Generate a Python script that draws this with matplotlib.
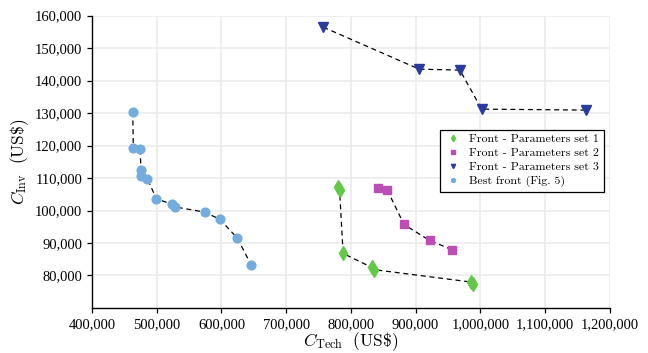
import numpy as np
import matplotlib
matplotlib.use("Agg")
import matplotlib.pyplot as plt
from matplotlib.ticker import FuncFormatter

plt.rcParams['font.family'] = 'serif'
plt.rcParams['font.serif'] = ['cmr10', 'DejaVu Serif']
plt.rcParams['mathtext.fontset'] = 'cm'
plt.rcParams['axes.formatter.use_mathtext'] = True

# front - parameters set 1 (green diamonds)
set1_x = [780500, 782500, 788000, 832000, 836000, 985000, 988500]
set1_y = [107200, 106300, 86800, 82500, 81800, 78000, 77400]
# front - parameters set 2 (magenta squares)
set2_x = [842500, 856500, 882000, 921500, 955500]
set2_y = [106800, 106200, 95700, 90800, 88000]
# front - parameters set 3 (blue triangles)
set3_x = [757500, 905500, 968500, 1002000, 1163000]
set3_y = [156400, 143500, 143200, 131200, 130900]
# best front (Fig. 5)
best_x = [462900, 463800, 474200, 475700, 475700, 485500, 499400,
          524100, 528300, 574200, 597400, 624600, 645700]
best_y = [130400, 119200, 118900, 112600, 110600, 109800, 103600,
          101900, 101100, 99500, 97300, 91500, 83300]

fig = plt.figure(figsize=(6.48, 3.53), dpi=100)
ax = fig.add_axes([0.142, 0.1275, 0.799, 0.8285])

dash = dict(color='black', lw=0.9, ls=(0, (4, 3)), zorder=2)
ax.plot(set1_x, set1_y, **dash)
ax.plot(set2_x, set2_y, **dash)
ax.plot(set3_x, set3_y, **dash)
ax.plot(best_x, best_y, **dash)

ax.plot(set1_x, set1_y, ls='none', marker='d', ms=7.5, color='#62c84a',
        mec='#62c84a', zorder=3, label='Front - Parameters set 1')
ax.plot(set2_x, set2_y, ls='none', marker='s', ms=5.3, color='#bb4db5',
        mec='#bb4db5', zorder=3, label='Front - Parameters set 2')
ax.plot(set3_x, set3_y, ls='none', marker='v', ms=6.8, color='#2b3c9e',
        mec='#2b3c9e', zorder=3, label='Front - Parameters set 3')
ax.plot(best_x, best_y, ls='none', marker='o', ms=6.3, color='#74acdd',
        mec='#74acdd', zorder=3, label='Best front (Fig. 5)')

ax.set_xlim(400000, 1200000)
ax.set_ylim(70000, 160000)
ax.set_xticks(np.arange(400000, 1200001, 100000))
ax.set_yticks(np.arange(80000, 160001, 10000))
fmt = FuncFormatter(lambda v, p: '{:,}'.format(int(v)))
ax.xaxis.set_major_formatter(fmt)
ax.yaxis.set_major_formatter(fmt)
ax.tick_params(labelsize=10.5, direction='out', length=3.5, width=0.9, colors='black')
for lab in ax.get_xticklabels() + ax.get_yticklabels():
    lab.set_family('Liberation Serif')

ax.grid(True, color='#ebebeb', lw=1.2, zorder=0)
ax.set_axisbelow(True)
for s in ['top', 'right']:
    ax.spines[s].set_visible(False)
for s in ['left', 'bottom']:
    ax.spines[s].set_linewidth(1.0)

ax.set_xlabel(r'$C_{\mathrm{Tech}}\ \ \mathrm{(US\$)}$', fontsize=12.5, labelpad=0)
ax.set_ylabel(r'$C_{\mathrm{Inv}}\ \ \mathrm{(US\$)}$', fontsize=12.5, labelpad=3)

leg = ax.legend(loc='upper right', bbox_to_anchor=(0.988, 0.609), fontsize=8.6,
                frameon=True, fancybox=False, edgecolor='black', framealpha=1,
                markerscale=0.45, handletextpad=0.6, borderpad=0.35,
                labelspacing=0.3, handlelength=1.5, borderaxespad=0)
leg.get_frame().set_linewidth(0.9)

fig.savefig('out.png', dpi=100)
